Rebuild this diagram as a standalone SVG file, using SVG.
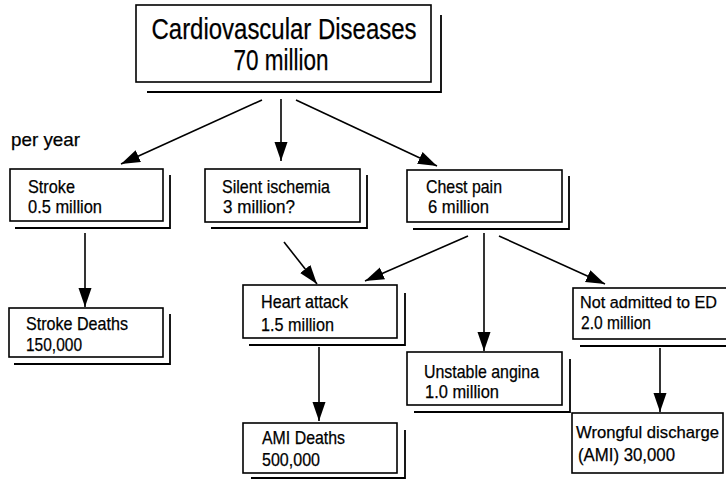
<svg xmlns="http://www.w3.org/2000/svg" width="726" height="479" viewBox="0 0 726 479">
  <style>
    .box { fill: #fff; stroke: #000; stroke-width: 1.6; }
    .shadow { fill: none; stroke: #000; stroke-width: 1.8; }
    .edge { fill: none; stroke: #000; stroke-width: 1.6; }
    text { font-family: "Liberation Sans", Arial, Helvetica, sans-serif; fill: #000; stroke: #000; stroke-width: 0.25; }
    .t { font-size: 18.5px; }
    .tn { font-size: 16.8px; }
    .big { font-size: 29.5px; }
  </style>
  <defs>
    <marker id="arrow" markerUnits="userSpaceOnUse" markerWidth="20" markerHeight="14" refX="19" refY="6.5" orient="auto">
      <path d="M0,0 L19,6.5 L0,13 Z" fill="#000"/>
    </marker>
  </defs>

  <rect width="726" height="479" fill="#fff"/>

  <g id="connectors">
    <line class="edge" x1="262" y1="100" x2="121" y2="164" marker-end="url(#arrow)"/>
    <line class="edge" x1="281" y1="99" x2="281" y2="161" marker-end="url(#arrow)"/>
    <line class="edge" x1="296" y1="100" x2="437" y2="166" marker-end="url(#arrow)"/>
    <line class="edge" x1="85" y1="233" x2="85" y2="307" marker-end="url(#arrow)"/>
    <line class="edge" x1="284" y1="242" x2="317" y2="284" marker-end="url(#arrow)"/>
    <line class="edge" x1="468" y1="236" x2="365" y2="281" marker-end="url(#arrow)"/>
    <line class="edge" x1="484" y1="233" x2="484" y2="351" marker-end="url(#arrow)"/>
    <line class="edge" x1="499" y1="236" x2="605" y2="284" marker-end="url(#arrow)"/>
    <line class="edge" x1="319" y1="347" x2="319" y2="421" marker-end="url(#arrow)"/>
    <line class="edge" x1="660" y1="348" x2="660" y2="412" marker-end="url(#arrow)"/>
  </g>

  <g id="cvd">
    <polyline class="shadow" points="147,92 441,92 441,15"/>
    <rect class="box" x="136" y="5" width="295" height="77"/>
    <text class="big" x="284" y="39" text-anchor="middle" textLength="265" lengthAdjust="spacingAndGlyphs">Cardiovascular Diseases</text>
    <text class="big" x="281" y="70" text-anchor="middle" textLength="95" lengthAdjust="spacingAndGlyphs">70 million</text>
  </g>

  <g id="per-year">
    <text class="t" x="11" y="146" textLength="69" lengthAdjust="spacingAndGlyphs">per year</text>
  </g>

  <g id="stroke">
    <polyline class="shadow" points="15,228 170,228 170,175"/>
    <rect class="box" x="10" y="169" width="153" height="52"/>
    <text class="t" x="28" y="193" textLength="47" lengthAdjust="spacingAndGlyphs">Stroke</text>
    <text class="t" x="28" y="213" textLength="74" lengthAdjust="spacingAndGlyphs">0.5 million</text>
  </g>

  <g id="silent-ischemia">
    <polyline class="shadow" points="211,228 367,228 367,175"/>
    <rect class="box" x="205" y="169" width="155" height="53"/>
    <text class="t" x="222" y="193" textLength="108" lengthAdjust="spacingAndGlyphs">Silent ischemia</text>
    <text class="t" x="223" y="213" textLength="72" lengthAdjust="spacingAndGlyphs">3 million?</text>
  </g>

  <g id="chest-pain">
    <polyline class="shadow" points="413,229 569,229 569,176"/>
    <rect class="box" x="407" y="170" width="155" height="52"/>
    <text class="t" x="426" y="193" textLength="76" lengthAdjust="spacingAndGlyphs">Chest pain</text>
    <text class="t" x="428" y="213" textLength="61" lengthAdjust="spacingAndGlyphs">6 million</text>
  </g>

  <g id="stroke-deaths">
    <polyline class="shadow" points="14,364 170,364 170,314"/>
    <rect class="box" x="9" y="308" width="154" height="49"/>
    <text class="t" x="26" y="330" textLength="102" lengthAdjust="spacingAndGlyphs">Stroke Deaths</text>
    <text class="t" x="26" y="351" textLength="56" lengthAdjust="spacingAndGlyphs">150,000</text>
  </g>

  <g id="heart-attack">
    <polyline class="shadow" points="249,345 405,345 405,293"/>
    <rect class="box" x="243" y="285" width="154" height="53"/>
    <text class="t" x="261" y="308" textLength="87" lengthAdjust="spacingAndGlyphs">Heart attack</text>
    <text class="t" x="261" y="331" textLength="73" lengthAdjust="spacingAndGlyphs">1.5 million</text>
  </g>

  <g id="not-admitted">
    <polyline class="shadow" points="580,346 730,346"/>
    <rect class="box" x="573" y="288" width="160" height="51"/>
    <text class="tn" x="580" y="308" textLength="137" lengthAdjust="spacingAndGlyphs">Not admitted to ED</text>
    <text class="t" x="581" y="329" textLength="70" lengthAdjust="spacingAndGlyphs">2.0 million</text>
  </g>

  <g id="unstable-angina">
    <polyline class="shadow" points="414,412 570,412 570,359"/>
    <rect class="box" x="407" y="352" width="155" height="53"/>
    <text class="t" x="424" y="378" textLength="115" lengthAdjust="spacingAndGlyphs">Unstable angina</text>
    <text class="t" x="425" y="398" textLength="74" lengthAdjust="spacingAndGlyphs">1.0 million</text>
  </g>

  <g id="ami-deaths">
    <polyline class="shadow" points="251,478 405,478 405,430"/>
    <rect class="box" x="243" y="423" width="154" height="50"/>
    <text class="t" x="262" y="444" textLength="83" lengthAdjust="spacingAndGlyphs">AMI Deaths</text>
    <text class="t" x="262" y="466" textLength="58" lengthAdjust="spacingAndGlyphs">500,000</text>
  </g>

  <g id="wrongful-discharge">
    <rect class="box" x="572" y="413" width="151" height="60"/>
    <text class="tn" x="576" y="438" textLength="143" lengthAdjust="spacingAndGlyphs">Wrongful discharge</text>
    <text class="t" x="578" y="461" textLength="97" lengthAdjust="spacingAndGlyphs">(AMI) 30,000</text>
  </g>
</svg>
